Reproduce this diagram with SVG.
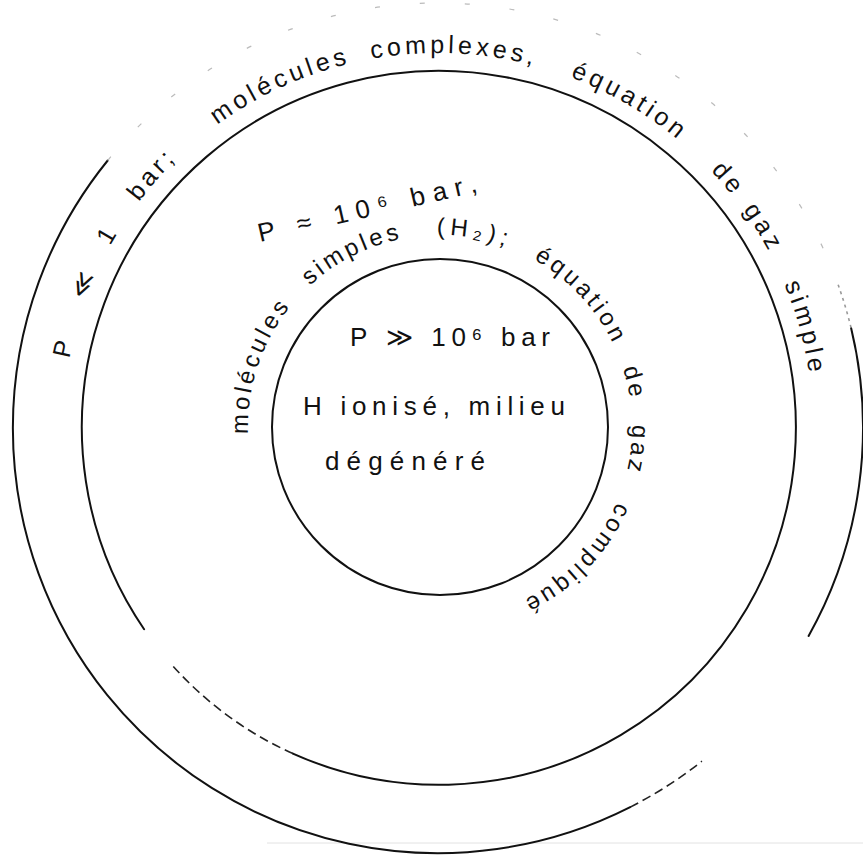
<svg xmlns="http://www.w3.org/2000/svg" width="863" height="856" viewBox="0 0 863 856">
<style>
.ln{fill:none;stroke:#111;stroke-width:2;stroke-linecap:round}
.dash{fill:none;stroke:#222;stroke-width:1.6;stroke-dasharray:9 5}
.faint{fill:none;stroke:#bbb;stroke-width:1.2;stroke-dasharray:5 40}
.t{font-family:"Liberation Sans",Arial,sans-serif;fill:#111}
.o{font-size:25px;letter-spacing:4px}
.m{font-size:24px;letter-spacing:3.5px}
.i{font-size:26px}
</style>
<defs>
<path id="pOuter" d="M 63 428 A 375 375 0 1 1 813 428 A 375 375 0 1 1 63 428"/>
<path id="pMid" d="M 273.72 523 A 192 192 0 1 1 606.28 331 A 192 192 0 1 1 273.72 523"/>
</defs>
<rect width="863" height="856" fill="#fff"/>
<line x1="267" y1="843" x2="863" y2="843" stroke="#e2e2e2" stroke-width="1"/>

<g id="outer-ring">
<path class="ln" d="M 107.7 160.5 A 425 425 0 0 0 630.2 807.1"/>
<path class="dash" d="M 630.2 807.1 A 425 425 0 0 0 701.9 761.2"/>
<path class="ln" d="M 851.1 328.0 A 425 425 0 0 1 808.6 635.9"/>
<path class="dash" d="M 838.1 284.7 A 425 425 0 0 1 851.1 328.0" style="stroke:#999;stroke-dasharray:3 4"/>
<path class="faint" d="M 107.7 160.5 A 425 425 0 0 1 838.1 284.7"/>
<g class="t o">
<text><textPath href="#pOuter" startOffset="80" text-anchor="middle">P</textPath></text>
<text><textPath href="#pOuter" startOffset="145" text-anchor="middle">≪</textPath></text>
<text><textPath href="#pOuter" startOffset="199" text-anchor="middle">1</textPath></text>
<text><textPath href="#pOuter" startOffset="272" text-anchor="middle">bar;</textPath></text>
<text><textPath href="#pOuter" startOffset="427" text-anchor="middle">molécules</textPath></text>
<text><textPath href="#pOuter" startOffset="605" text-anchor="middle">complexes,</textPath></text>
<text><textPath href="#pOuter" startOffset="788" text-anchor="middle">équation</textPath></text>
<text><textPath href="#pOuter" startOffset="912" text-anchor="middle">de</textPath></text>
<text><textPath href="#pOuter" startOffset="971" text-anchor="middle">gaz</textPath></text>
<text><textPath href="#pOuter" startOffset="1078" text-anchor="middle">simple</textPath></text>
</g>
</g>

<g id="middle-ring">
<path class="ln" d="M 144.1 629.2 A 357 357 0 1 1 292.9 753.6"/>
<path class="dash" d="M 292.9 753.6 A 357 357 0 0 1 170.0 662.7"/>
<text class="t" style="font-size:26px" transform="translate(260,242) rotate(-13)" textLength="224" lengthAdjust="spacing">P ≈ 10⁶ bar,</text>
<g class="t m">
<text><textPath href="#pMid" startOffset="163" text-anchor="middle">molécules</textPath></text>
<text><textPath href="#pMid" startOffset="312" text-anchor="middle">simples</textPath></text>
<text><textPath href="#pMid" startOffset="436" text-anchor="middle" style="letter-spacing:5px">(H₂);</textPath></text>
<text><textPath href="#pMid" startOffset="560" text-anchor="middle">équation</textPath></text>
<text><textPath href="#pMid" startOffset="661" text-anchor="middle">de</textPath></text>
<text><textPath href="#pMid" startOffset="726" text-anchor="middle">gaz</textPath></text>
<text><textPath href="#pMid" startOffset="851" text-anchor="middle">compliqué</textPath></text>
</g>
</g>

<g id="inner-core">
<circle class="ln" cx="440" cy="427" r="168"/>
<text class="t i" x="350" y="346" textLength="200" lengthAdjust="spacing">P ≫ 10⁶ bar</text>
<text class="t i" x="303" y="415" textLength="262" lengthAdjust="spacing">H ionisé, milieu</text>
<text class="t i" x="325" y="470" textLength="160" lengthAdjust="spacing">dégénéré</text>
</g>
</svg>
